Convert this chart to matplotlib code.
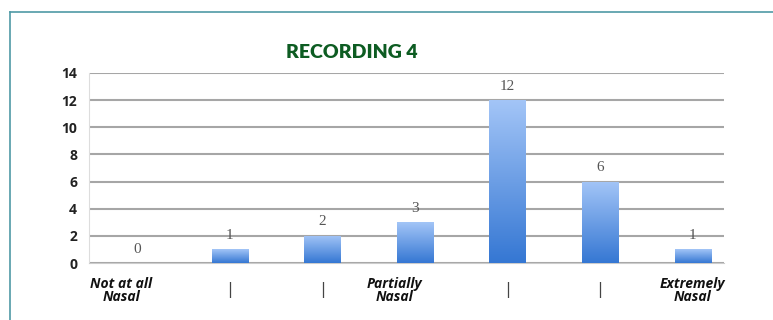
import numpy as np
import matplotlib.pyplot as plt
from matplotlib.lines import Line2D

categories = ['Not at all\nNasal', '|', '|', 'Partially\nNasal', '|', '|', 'Extremely\nNasal']
counts = [0, 1, 2, 3, 12, 6, 1]
yticks = [0, 2, 4, 6, 8, 10, 12, 14]
title = 'RECORDING 4'

fig = plt.figure(figsize=(7.73, 3.2), dpi=100)
ax = fig.add_axes([0.115, 0.178, 0.822, 0.594])

x = np.arange(len(counts))
bars = ax.bar(x, counts, width=0.39, color='#5d95e6', zorder=3)

# vertical gradient inside each bar
grad = np.linspace(0, 1, 256).reshape(-1, 1)
cmap = plt.matplotlib.colors.LinearSegmentedColormap.from_list('b', ['#3577d3', '#a3c5f7'])
for b in bars:
    if b.get_height() <= 0:
        continue
    x0, w, h = b.get_x(), b.get_width(), b.get_height()
    im = ax.imshow(grad, cmap=cmap, aspect='auto', origin='lower',
                   extent=[x0, x0 + w, 0, h], zorder=4)
    im.set_clip_path(b)

for xi, v in zip(x, counts):
    ax.text(xi, v + 0.55, str(v), ha='center', va='bottom', fontsize=11,
            family='Liberation Serif', color='#555555', zorder=5)

ax.set_xlim(-0.52, 6.34)
ax.set_ylim(0, 14)
ax.set_yticks(yticks)
ax.set_yticklabels([str(t) for t in yticks], fontsize=10, fontweight='bold',
                   family='Open Sans', color='#222222')
ax.yaxis.grid(True, color='#a6a6a6', linewidth=1.5, zorder=0)
ax.tick_params(axis='y', length=0, pad=8.5)
ax.set_xticks([])
for s in ['top', 'right']:
    ax.spines[s].set_visible(False)
ax.spines['left'].set_color('#dddddd')
ax.spines['bottom'].set_color('#cccccc')

# category labels under the axis
shifts = [-0.17, 0, 0, -0.22, 0, 0, 0]
for xi, lab, dx in zip(x, categories, shifts):
    if lab == '|':
        ax.text(xi + dx, -1.4, '|', ha='center', va='top', fontsize=11,
                color='#444444', transform=ax.transData)
    else:
        ax.text(xi + dx, -1.0, lab, ha='center', va='top', fontsize=10,
                fontweight='bold', style='italic', family='Open Sans',
                color='#111111', linespacing=0.9)

fig.text(352 / 773, 1 - 53 / 320, title, ha='center', va='center', fontsize=14,
         fontweight='heavy', family='Lato', color='#0d5c22')

# teal frame on the top and left
fig.add_artist(Line2D([10 / 773, 1], [1 - 12 / 320] * 2, color='#4f9aa6', lw=1.2))
fig.add_artist(Line2D([10 / 773] * 2, [0, 1 - 12 / 320], color='#4f9aa6', lw=1.2))

fig.savefig('out.png', dpi=100)
